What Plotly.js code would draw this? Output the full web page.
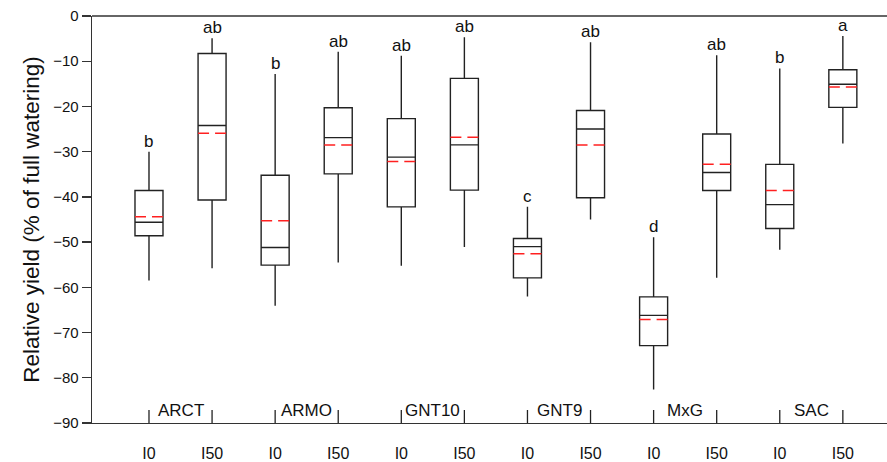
<!DOCTYPE html>
<html>
<head>
<meta charset="utf-8">
<script src="https://cdn.plot.ly/plotly-3.0.1.min.js"></script>
<style>html,body{margin:0;padding:0;background:#fff;}#chart{width:887px;height:462px;}</style>
</head>
<body>
<div id="chart"></div>
<script>
const groups = ["ARCT", "ARMO", "GNT10", "GNT9", "MxG", "SAC"];
const treatments = ["I0", "I50", "I0", "I50", "I0", "I50", "I0", "I50", "I0", "I50", "I0", "I50"];
const positions = [1, 2, 3, 4, 5, 6, 7, 8, 9, 10, 11, 12];
const upperWhisker = [-30.0, -4.9, -12.8, -7.9, -8.8, -4.7, -42.2, -5.8, -48.9, -8.7, -11.6, -4.4];
const q3 = [-38.6, -8.3, -35.2, -20.3, -22.7, -13.8, -49.2, -20.9, -62.1, -26.1, -32.8, -11.9];
const medians = [-45.6, -24.2, -51.2, -26.9, -31.2, -28.5, -51.0, -25.0, -66.2, -34.6, -41.7, -15.1];
const means = [-44.4, -25.9, -45.3, -28.5, -32.2, -26.8, -52.6, -28.5, -67.1, -32.8, -38.6, -15.7];
const q1 = [-48.6, -40.7, -55.1, -34.9, -42.2, -38.5, -57.9, -40.2, -72.9, -38.6, -47.0, -20.2];
const lowerWhisker = [-58.5, -55.8, -64.1, -54.5, -55.2, -51.1, -62.0, -45.0, -82.6, -57.9, -51.7, -28.2];
const letters = ["b", "ab", "b", "ab", "ab", "ab", "c", "ab", "d", "ab", "b", "a"];

const boxWidth = 0.444;
const fontFam = "Liberation Sans, Arial, sans-serif";

const boxTrace = {
  type: "box",
  x: positions,
  q1: q1, median: medians, q3: q3,
  lowerfence: lowerWhisker, upperfence: upperWhisker,
  width: boxWidth,
  boxpoints: false,
  line: {color: "#222", width: 1.4},
  fillcolor: "rgba(255,255,255,0)",
  whiskerwidth: 0,
  hoverinfo: "skip",
  showlegend: false
};

const mx = [], my = [];
positions.forEach((p, i) => {
  mx.push(p - boxWidth / 2, p + boxWidth / 2, null);
  my.push(means[i], means[i], null);
});
const meanTrace = {
  type: "scatter", mode: "lines", x: mx, y: my,
  line: {color: "#ff2020", width: 1.5, dash: "11px,6px"},
  hoverinfo: "skip", showlegend: false
};

const annotations = [];
positions.forEach((p, i) => {
  annotations.push({
    x: p, y: upperWhisker[i], xref: "x", yref: "y", text: letters[i],
    showarrow: false, yanchor: "bottom", yshift: -1,
    font: {family: fontFam, size: 17, color: "#111"}
  });
});
groups.forEach((g, k) => {
  annotations.push({
    x: (positions[2 * k] + positions[2 * k + 1]) / 2, y: -87.2, xref: "x", yref: "y",
    text: g, showarrow: false, yanchor: "middle",
    font: {family: fontFam, size: 17, color: "#111"}
  });
});

const shapes = [
  {type: "line", xref: "paper", yref: "paper", x0: 0, x1: 1, y0: 1, y1: 1, line: {color: "#333", width: 1.3}}
];
positions.forEach(p => {
  shapes.push({
    type: "line", xref: "x", yref: "y", x0: p, x1: p,
    ysizemode: "pixel", yanchor: -90, y0: -13, y1: 13,
    line: {color: "#222", width: 1.3}
  });
});

const layout = {
  width: 887, height: 462,
  margin: {l: 92, r: 0, t: 16, b: 39},
  paper_bgcolor: "#fff", plot_bgcolor: "#fff",
  font: {family: fontFam, color: "#111"},
  xaxis: {
    range: [0.0965, 12.70],
    tickmode: "array", tickvals: positions, ticktext: treatments,
    ticks: "", showgrid: false, zeroline: false,
    showline: true, linecolor: "#333", linewidth: 1.3,
    tickfont: {family: fontFam, size: 16, color: "#111"},
    ticklabelstandoff: 15
  },
  yaxis: {
    range: [-90, 0],
    tickmode: "array", tickvals: [0, -10, -20, -30, -40, -50, -60, -70, -80, -90],
    ticks: "outside", ticklen: 9, tickcolor: "#333", tickwidth: 1.3,
    showgrid: false, zeroline: false,
    showline: true, linecolor: "#333", linewidth: 1.3,
    tickfont: {family: fontFam, size: 15, color: "#111"},
    title: {text: "Relative yield (% of full watering)", font: {family: fontFam, size: 22.5, color: "#111"}, standoff: 7}
  },
  annotations: annotations,
  shapes: shapes
};

Plotly.newPlot("chart", [boxTrace, meanTrace], layout, {displayModeBar: false, staticPlot: true});
</script>
</body>
</html>
